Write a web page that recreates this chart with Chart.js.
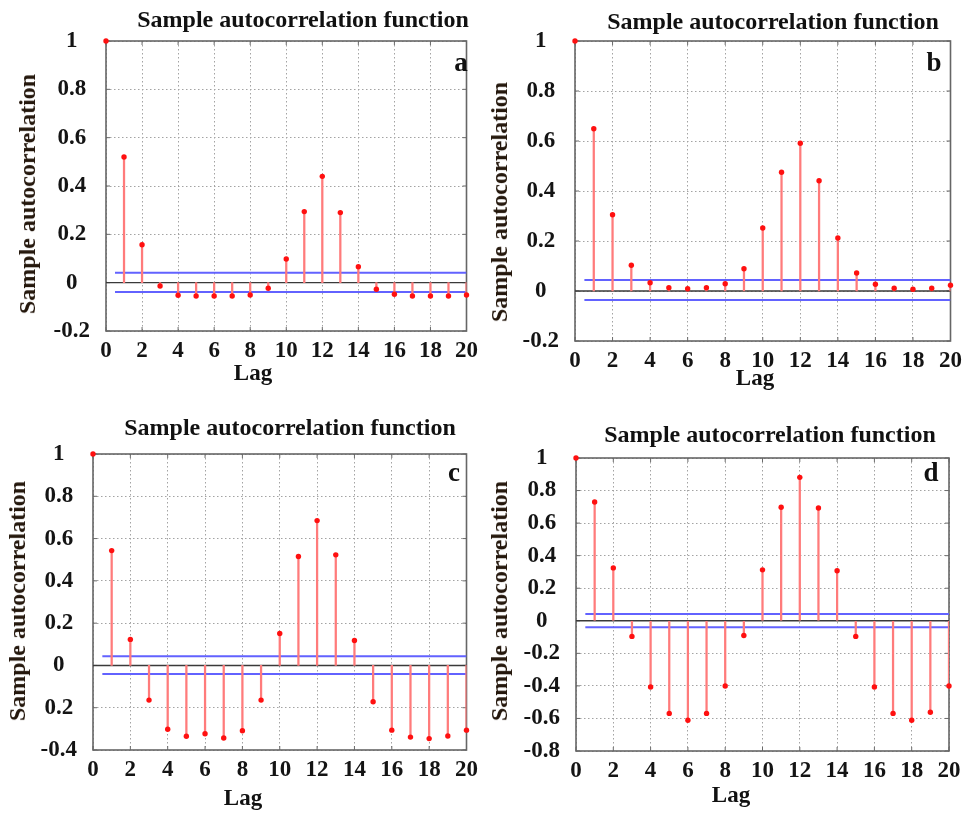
<!DOCTYPE html>
<html><head><meta charset="utf-8">
<script src="https://cdn.jsdelivr.net/npm/chart.js@4.4.0/dist/chart.umd.min.js"></script>
<style>
html,body{margin:0;padding:0;background:#fff;}
#fig{position:relative;width:968px;height:816px;overflow:hidden;background:#fff;font-family:"Liberation Serif","Times New Roman",serif;font-weight:bold;color:#111;}
#fig canvas{position:absolute;}
.t{position:absolute;white-space:nowrap;transform:translate(-50%,-50%);line-height:1;}
.yl{transform:translate(-50%,-50%) rotate(-90deg);color:#24170c;}
</style></head><body><div id="fig"></div>
<script>
// ---- data ----
const lags = [0,1,2,3,4,5,6,7,8,9,10,11,12,13,14,15,16,17,18,19,20];
const xTickLabels = ['0','2','4','6','8','10','12','14','16','18','20'];
const panelLetters = ['a','b','c','d'];
const titleText = 'Sample autocorrelation function';
const yAxisText = 'Sample autocorrelation';
const xAxisText = 'Lag';

const acfA = [1, 0.52, 0.157, -0.014, -0.052, -0.055, -0.055, -0.055, -0.051, -0.023, 0.098, 0.294, 0.44, 0.29, 0.066, -0.027, -0.048, -0.055, -0.055, -0.055, -0.051];
const acfB = [1, 0.649, 0.305, 0.103, 0.033, 0.013, 0.009, 0.013, 0.029, 0.089, 0.252, 0.475, 0.591, 0.441, 0.212, 0.072, 0.027, 0.011, 0.007, 0.011, 0.023];
const acfC = [1, 0.543, 0.123, -0.164, -0.302, -0.335, -0.323, -0.343, -0.309, -0.164, 0.151, 0.515, 0.685, 0.523, 0.118, -0.172, -0.306, -0.339, -0.346, -0.334, -0.306];
const acfD = [1, 0.73, 0.325, -0.096, -0.407, -0.569, -0.611, -0.569, -0.401, -0.09, 0.313, 0.697, 0.881, 0.693, 0.307, -0.096, -0.407, -0.569, -0.611, -0.562, -0.401];

const boundsA = [0.041, -0.039];
const boundsB = [0.044, -0.036];
const boundsC = [0.043, -0.041];
const boundsD = [0.041, -0.039];

const yTicksA = ['-0.2','0','0.2','0.4','0.6','0.8','1'];
const yTicksB = ['-0.2','0','0.2','0.4','0.6','0.8','1'];
const yTicksC = ['-0.4','0.2','0','0.2','0.4','0.6','0.8','1'];
const yTicksD = ['-0.8','-0.6','-0.4','-0.2','0','0.2','0.4','0.6','0.8','1'];

const yMinA = -0.2, yMinB = -0.2, yMinC = -0.4, yMinD = -0.8, yMax = 1;
const bandStart = 0.5;

// ---- layout (positions only) ----
const panels = [
  {values: acfA, bounds: boundsA, yTicks: yTicksA, yMin: yMinA, letter: panelLetters[0],
   box: {x:0, y:0, w:484, h:400}, area: {l:106, r:473, t:41, b:331},
   title: [303, 19], ylab: [27, 194], xlab: [253, 372], let: [461, 62]},
  {values: acfB, bounds: boundsB, yTicks: yTicksB, yMin: yMinB, letter: panelLetters[1],
   box: {x:484, y:0, w:484, h:400}, area: {l:575, r:953, t:41, b:341},
   title: [773, 21], ylab: [499, 202], xlab: [755, 377], let: [934, 62]},
  {values: acfC, bounds: boundsC, yTicks: yTicksC, yMin: yMinC, letter: panelLetters[2],
   box: {x:0, y:408, w:484, h:408}, area: {l:93, r:469, t:454, b:750},
   title: [290, 427], ylab: [17, 601], xlab: [243, 797], let: [454, 472]},
  {values: acfD, bounds: boundsD, yTicks: yTicksD, yMin: yMinD, letter: panelLetters[3],
   box: {x:484, y:408, w:484, h:408}, area: {l:576, r:949, t:458, b:751},
   title: [770, 434], ylab: [499, 601], xlab: [731, 794], let: [931, 472]}
];

const fig = document.getElementById('fig');
const tickFont = {family: '"Liberation Serif","Times New Roman",serif', size: 23, weight: 'bold'};

const boxPlugin = {
  id: 'box',
  beforeDatasetsDraw(chart) {
    const {ctx, chartArea: a, scales} = chart;
    ctx.save();
    ctx.strokeStyle = '#6a6a6a';
    ctx.lineWidth = 1;
    ctx.beginPath();
    scales.x.ticks.forEach(t => {
      const px = scales.x.getPixelForValue(t.value);
      ctx.moveTo(px, a.top); ctx.lineTo(px, a.top + 4);
      ctx.moveTo(px, a.bottom); ctx.lineTo(px, a.bottom - 4);
    });
    scales.y.ticks.forEach(t => {
      const py = scales.y.getPixelForValue(t.value);
      ctx.moveTo(a.left, py); ctx.lineTo(a.left + 4, py);
      ctx.moveTo(a.right, py); ctx.lineTo(a.right - 4, py);
    });
    ctx.stroke();
    ctx.lineWidth = 1.6;
    ctx.strokeStyle = '#666';
    ctx.strokeRect(a.left, a.top, a.right - a.left, a.bottom - a.top);
    ctx.restore();
  }
};

function addText(txt, pos, size, cls) {
  const d = document.createElement('div');
  d.className = 't' + (cls ? ' ' + cls : '');
  d.style.left = pos[0] + 'px';
  d.style.top = pos[1] + 'px';
  d.style.fontSize = size + 'px';
  d.textContent = txt;
  fig.appendChild(d);
}

panels.forEach(p => {
  const cv = document.createElement('canvas');
  cv.width = p.box.w; cv.height = p.box.h;
  cv.style.left = p.box.x + 'px'; cv.style.top = p.box.y + 'px';
  cv.style.width = p.box.w + 'px'; cv.style.height = p.box.h + 'px';
  fig.appendChild(cv);

  const padL = 4;
  const yW = p.area.l - p.box.x - padL;
  const xH = 34;
  const padT = p.area.t - p.box.y;
  const padR = p.box.x + p.box.w - p.area.r;
  const padB = p.box.y + p.box.h - p.area.b - xH;

  const pts = lags.map((x, i) => ({x: x, y: p.values[i]}));
  const stems = pts.slice(1); // lag 0 stem coincides with the left frame
  const gridOpts = {color: '#a3a3a3', lineWidth: 1, drawTicks: false, offset: false};

  new Chart(cv, {
    type: 'scatter',
    data: {
      datasets: [
        {type: 'scatter', data: pts, pointRadius: 2.7, pointBackgroundColor: '#ff1010', pointBorderWidth: 0, clip: false, order: 0},
        {type: 'bar', data: stems, backgroundColor: '#ff7b7b', barThickness: 1.6, borderWidth: 0, grouped: false, order: 1},
        {type: 'line', data: [{x: bandStart, y: p.bounds[0]}, {x: 20, y: p.bounds[0]}], borderColor: '#6262ff', borderWidth: 2, pointRadius: 0, order: 2},
        {type: 'line', data: [{x: bandStart, y: p.bounds[1]}, {x: 20, y: p.bounds[1]}], borderColor: '#6262ff', borderWidth: 2, pointRadius: 0, order: 2},
        {type: 'line', data: [{x: 0, y: 0}, {x: 20, y: 0}], borderColor: '#3a3a3a', borderWidth: 1.4, pointRadius: 0, order: 3}
      ]
    },
    options: {
      responsive: false, animation: false, devicePixelRatio: 1,
      layout: {padding: {left: padL, right: padR, top: padT, bottom: padB}},
      plugins: {legend: {display: false}, tooltip: {enabled: false}, title: {display: false}},
      scales: {
        x: {
          type: 'linear', min: 0, max: 20, offset: false,
          afterFit: s => { s.height = xH; },
          ticks: {stepSize: 2, autoSkip: false, maxRotation: 0, padding: 6, color: '#141414', font: tickFont,
                  callback: (v, i) => xTickLabels[i]},
          grid: gridOpts,
          border: {display: false, dash: [1.5, 2.5]}
        },
        y: {
          type: 'linear', min: p.yMin, max: yMax,
          afterFit: s => { s.width = yW; },
          ticks: {stepSize: 0.2, autoSkip: false, padding: 16, crossAlign: 'center', color: '#141414', font: tickFont,
                  callback: (v, i) => p.yTicks[i]},
          grid: gridOpts,
          border: {display: false, dash: [1.5, 2.5]}
        }
      }
    },
    plugins: [boxPlugin]
  });

  addText(titleText, p.title, 24, '');
  addText(yAxisText, p.ylab, 24, 'yl');
  addText(xAxisText, p.xlab, 23, '');
  addText(p.letter, p.let, 27, '');
});
</script>
</body></html>
